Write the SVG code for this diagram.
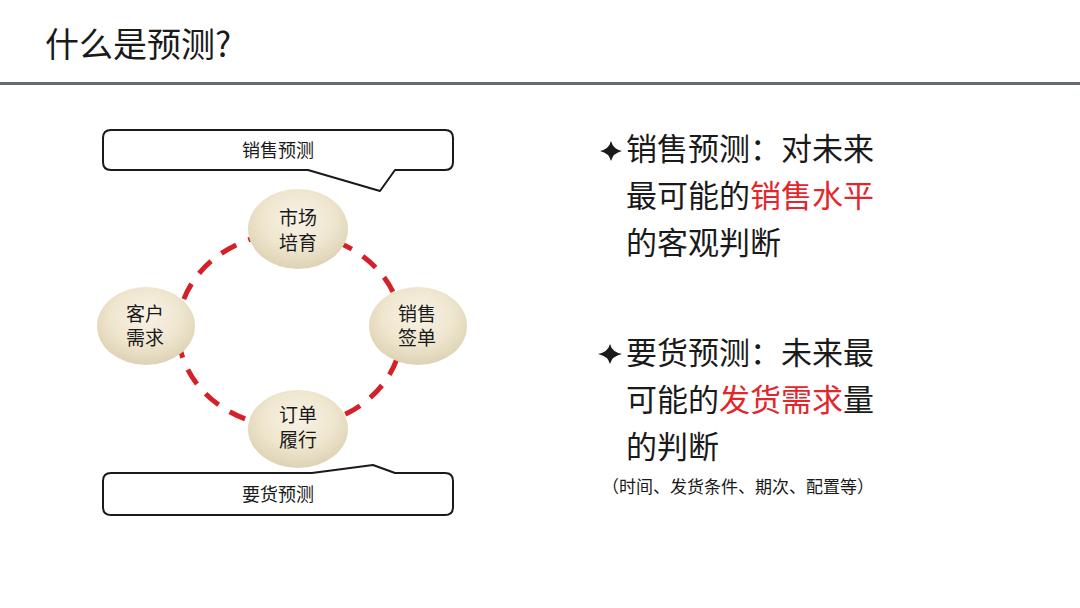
<svg xmlns="http://www.w3.org/2000/svg" width="1080" height="608" viewBox="0 0 1080 608">
<defs>
<radialGradient id="egg" cx="50%" cy="40%" r="60%" fx="50%" fy="35%">
<stop offset="0" stop-color="#f8f3e6"/>
<stop offset="0.6" stop-color="#efe6cf"/>
<stop offset="1" stop-color="#ddd2b4"/>
</radialGradient>
<style>
.t{font-family:"Microsoft YaHei","Noto Sans CJK SC","Liberation Sans",sans-serif;fill:#1a1a1a}
.n{font-size:19px;text-anchor:middle}
.c{font-size:18px;text-anchor:middle}
.b{font-size:31px}
.r{fill:#e3262c}
.callout{fill:#fff;stroke:#1a1a1a;stroke-width:2;stroke-linejoin:round}
.node{fill:url(#egg)}
.star{fill:#1a1a1a}
</style>
</defs>
<rect width="1080" height="608" fill="#fff"/>
<text class="t" x="45" y="57" font-size="34">什么是预测?</text>
<rect x="0" y="82" width="1080" height="3" fill="#666b70"/>

<g id="connectors">
<ellipse cx="290" cy="330" rx="112" ry="97" fill="none" stroke="#d42027" stroke-width="5" stroke-dasharray="17 13"/>
</g>

<g id="callout-sales">
<path class="callout" d="M111 130 H445 Q453 130 453 138 V162 Q453 170 445 170 H395 L380 191 L308 170 H111 Q103 170 103 162 V138 Q103 130 111 130 Z"/>
<text class="t c" x="278" y="157">销售预测</text>
</g>
<g id="callout-demand">
<path class="callout" d="M111 473 H312 L373 465 L395 473 H445 Q453 473 453 481 V507 Q453 515 445 515 H111 Q103 515 103 507 V481 Q103 473 111 473 Z"/>
<text class="t c" x="278" y="501">要货预测</text>
</g>

<g id="node-market">
<ellipse class="node" cx="298" cy="229" rx="50" ry="40"/>
<text class="t n" x="298" y="225">市场</text>
<text class="t n" x="298" y="250">培育</text>
</g>
<g id="node-customer">
<ellipse class="node" cx="146" cy="326" rx="49" ry="39"/>
<text class="t n" x="145" y="321">客户</text>
<text class="t n" x="145" y="345">需求</text>
</g>
<g id="node-sign">
<ellipse class="node" cx="418" cy="326" rx="49" ry="39"/>
<text class="t n" x="417" y="321">销售</text>
<text class="t n" x="417" y="345">签单</text>
</g>
<g id="node-order">
<ellipse class="node" cx="298" cy="429" rx="50" ry="39"/>
<text class="t n" x="298" y="422">订单</text>
<text class="t n" x="298" y="447">履行</text>
</g>

<g id="bullet-sales">
<path class="star" d="M611 141 Q613 149 622 151 Q613 153 611 161 Q609 153 600 151 Q609 149 611 141 Z"/>
<text class="t b" x="626" y="160">销售预测：对未来</text>
<text class="t b" x="626" y="207">最可能的<tspan class="r">销售水平</tspan></text>
<text class="t b" x="626" y="254">的客观判断</text>
</g>
<g id="bullet-demand">
<path class="star" d="M610 344 Q612 352 622 354 Q612 356 610 364 Q608 356 598 354 Q608 352 610 344 Z"/>
<text class="t b" x="626" y="364">要货预测：未来最</text>
<text class="t b" x="626" y="411">可能的<tspan class="r">发货需求</tspan>量</text>
<text class="t b" x="626" y="458">的判断</text>
<text class="t" x="738" y="493" font-size="17" text-anchor="middle">（时间、发货条件、期次、配置等）</text>
</g>
</svg>
